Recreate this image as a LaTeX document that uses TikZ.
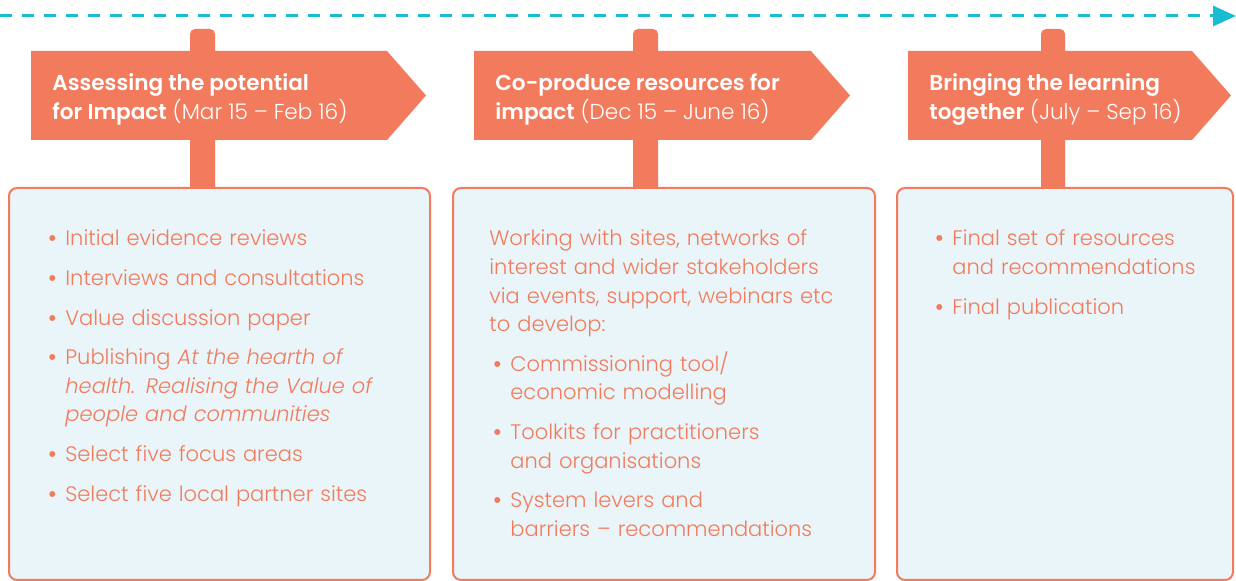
\documentclass[tikz,border=0pt]{standalone}
\usepackage{fontspec}
\setmainfont{Poppins Light}[BoldFont={Poppins SemiBold},ItalicFont={Poppins Light Italic}]
\usetikzlibrary{arrows.meta}
\definecolor{signorange}{HTML}{F37B5D}
\definecolor{boxblue}{HTML}{E9F5F8}
\definecolor{lineteal}{HTML}{1ABCD2}
\newcommand\bitem[1]{\hangindent=9pt\hangafter=1\noindent\makebox[9pt][l]{\textbf{\textbullet}}#1\par}
\tikzset{
  timeline/.style={
    draw=lineteal,
    line width=1.5pt,
    dash pattern=on 6pt off 5pt,
    -{Triangle[length=11.5pt,width=10pt]}
  },
  signpost/.style={fill=signorange,rounded corners=2.5pt},
  signboard/.style={fill=signorange},
  infobox/.style={draw=signorange,fill=boxblue,line width=1pt,rounded corners=4pt},
  headtext/.style={text=white,inner sep=0pt,align=left,
    font={\fontsize{10.8}{14.5}\selectfont}},
  listtext/.style={text=signorange,inner sep=0pt,align=left,text width=200pt,
    font={\fontsize{10.5}{14.3}\selectfont}},
}
\begin{document}
\begin{tikzpicture}[x=0.5pt,y=-0.5pt]
\useasboundingbox (0,0) rectangle (1236,581);
\coordinate (start) at (0,16);
\coordinate (end) at (1236,16);
\draw[timeline] (start) -- (end);
\fill[signpost] (190,29) rectangle (215,200);
\fill[signpost] (633,29) rectangle (658,200);
\fill[signpost] (1041,29) rectangle (1065,200);
\fill[signboard]
  (31,51) -- (387,51) -- (426,95.5) -- (387,140) -- (31,140) -- cycle;
\fill[signboard]
  (474,51) -- (811,51) -- (850,95.5) -- (811,140) -- (474,140) -- cycle;
\fill[signboard]
  (908,51) -- (1192,51) -- (1231,95.5) -- (1192,140) -- (908,140) -- cycle;
\draw[infobox] (9,188) rectangle (430,580);
\draw[infobox] (453,188) rectangle (875,580);
\draw[infobox] (897,188) rectangle (1233,580);
\node[headtext,anchor=base west] (headA) at (52,120)
  {\textbf{Assessing the potential}\\\textbf{for Impact} (Mar 15 -- Feb 16)};
\node[headtext,anchor=base west] (headB) at (495,120)
  {\textbf{Co-produce resources for}\\\textbf{impact} (Dec 15 -- June 16)};
\node[headtext,anchor=base west] (headC) at (929,120)
  {\textbf{Bringing the learning}\\\textbf{together} (July -- Sep 16)};
\node[listtext,anchor=base west] (listA) at (47,246) {\parskip=5.5pt
  \bitem{Initial evidence reviews}
  \bitem{Interviews and consultations}
  \bitem{Value discussion paper}
  \bitem{Publishing \textit{At the hearth of}\newline\textit{health. Realising the Value of}\newline\textit{people and communities}}
  \bitem{Select five focus areas}
  \bitem{Select five local partner sites}};
\node[listtext,anchor=base west] (listB) at (489,246) {\parskip=5.5pt
  Working with sites, networks of\newline interest and wider stakeholders\newline via events, support, webinars etc\newline to develop:\par
  \leftskip=1.5pt
  \bitem{Commissioning tool/\newline economic modelling}
  \bitem{Toolkits for practitioners\newline and organisations}
  \bitem{System levers and\newline barriers -- recommendations}};
\node[listtext,anchor=base west] (listC) at (934,246) {\parskip=5.5pt
  \bitem{Final set of resources\newline and recommendations}
  \bitem{Final publication}};
\end{tikzpicture}
\end{document}
